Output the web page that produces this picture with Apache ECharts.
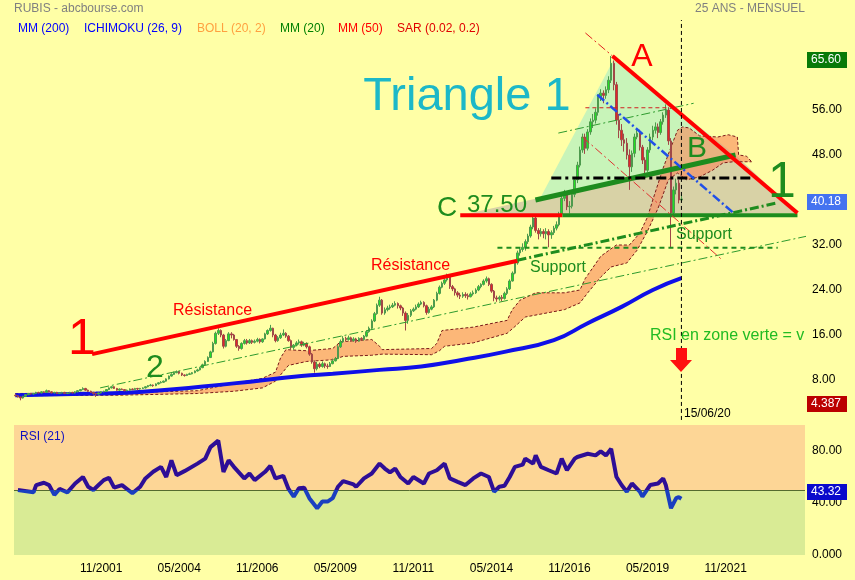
<!DOCTYPE html>
<html><head><meta charset="utf-8">
<script src="https://cdn.jsdelivr.net/npm/echarts@6/dist/echarts.min.js"></script>
<style>html,body{margin:0;padding:0;background:#FFFFA6}#c{width:855px;height:580px}</style>
</head><body><div id="c"></div>
<script>
// ---------- axis definition ----------
const START_YEAR = 1999, START_MONTH = 2, AXIS_MONTHS = 304;
const FIRST_LABEL = 33, LABEL_STEP = 30, LAST_LABEL = 273;

// ---------- monthly prices (from 02/1999 to 06/2020) ----------
const firstOpen = 5.3;
const closes = [
 5.2,5.0,4.8,5.1,5.4,5.6,5.5,5.6,5.8,5.7,5.9,
 5.8,6.1,5.9,5.7,5.8,5.6,5.7,5.8,5.6,5.7,5.8,5.7,
 5.9,6.1,6.3,6.5,6.2,6.0,5.8,5.6,5.5,5.7,5.9,6.0,
 6.3,6.6,6.8,6.5,6.2,6.4,6.3,6.1,6.2,6.4,6.3,6.5,
 6.4,6.5,6.6,6.8,7.0,7.1,7.0,7.3,7.5,7.6,7.8,8.2,
 8.7,9.0,9.3,9.5,9.2,8.9,8.8,9.0,9.1,9.3,9.6,9.8,
 10.2,10.7,11.3,12.0,13.0,14.5,16.3,16.8,16.0,14.0,15.0,16.2,
 16.0,15.2,14.0,13.6,14.5,15.0,14.6,15.0,14.7,14.9,15.2,14.8,
 15.3,16.2,16.8,17.2,16.0,15.0,15.5,16.0,16.3,15.8,15.0,13.8,
 14.2,14.6,14.8,14.2,14.5,13.9,12.6,11.2,10.0,10.8,10.4,10.9,
 10.5,10.4,10.9,11.4,11.8,13.9,14.8,15.4,15.2,15.5,15.0,15.3,
 14.9,15.4,15.2,15.8,16.6,17.2,18.5,19.8,21.3,22.2,19.9,20.5,
 20.8,21.0,21.3,21.6,21.2,20.8,19.9,18.6,19.5,20.3,20.6,21.0,
 21.5,21.8,21.2,20.0,20.6,21.0,22.2,23.4,24.5,25.2,25.8,26.3,
 24.6,24.2,23.5,23.1,22.9,23.2,23.0,22.8,23.3,23.5,24.0,24.6,
 25.0,25.6,26.0,25.0,23.8,22.6,22.4,22.7,22.5,23.4,24.2,25.6,
 27.0,28.8,30.6,31.2,31.6,32.6,33.6,35.2,36.8,34.6,34.0,34.4,
 34.0,34.4,33.8,34.2,35.0,35.6,37.5,40.3,41.2,38.8,38.9,41.0,
 43.6,46.2,48.9,51.2,49.2,52.1,53.9,54.2,55.6,58.3,59.0,58.6,
 59.6,61.3,64.3,60.5,54.2,52.4,50.7,50.1,48.0,45.9,48.3,51.2,
 51.9,49.4,47.1,45.3,48.9,51.2,52.4,53.0,52.0,53.9,55.1,56.0,
 50.5,37.7,41.8,43.0,40.0,40.18
];
const highs = [
 5.4,5.25,5.05,5.2,5.5,5.7,5.7,5.7,5.9,5.9,6.0,
 6.0,6.3,6.2,6.0,5.9,5.9,5.8,5.9,5.9,5.8,5.9,5.9,
 6.0,6.2,6.4,6.7,6.6,6.3,6.1,5.9,5.7,5.8,6.0,6.1,
 6.4,6.7,6.9,6.9,6.6,6.5,6.5,6.4,6.3,6.5,6.5,6.6,
 6.6,6.6,6.7,6.9,7.1,7.3,7.2,7.4,7.6,7.8,7.9,8.3,
 8.8,9.2,9.5,9.7,9.6,9.3,9.0,9.1,9.3,9.4,9.7,10.0,
 10.3,10.9,11.5,12.2,13.2,14.8,16.6,17.2,17.0,16.2,15.3,16.5,
 16.5,16.2,15.3,14.2,14.7,15.3,15.3,15.3,15.2,15.2,15.5,15.4,
 15.4,16.4,17.0,17.8,17.3,16.2,15.8,16.4,17.0,16.5,16.0,15.2,
 14.4,14.9,15.2,15.0,14.8,14.7,14.1,12.8,11.5,11.2,11.1,11.3,
 11.1,10.9,11.2,11.8,12.1,14.2,15.2,15.8,15.7,15.9,15.7,15.6,
 15.5,15.6,15.6,16.0,16.8,17.5,18.8,20.1,21.6,22.8,22.4,20.9,
 21.2,21.4,21.7,22.0,21.8,21.4,21.0,20.2,19.9,20.6,20.9,21.4,
 21.8,22.1,22.0,21.4,21.0,21.3,22.4,23.7,24.8,25.5,26.1,26.9,
 26.7,24.9,24.4,23.8,23.5,23.6,23.6,23.4,23.6,23.9,24.3,24.9,
 25.2,25.9,26.4,26.2,25.2,24.0,23.0,23.0,23.1,23.7,24.5,25.9,
 27.3,29.2,31.0,31.5,32.3,33.0,34.0,35.6,37.4,37.0,35.0,35.0,
 34.8,35.0,34.8,34.6,35.4,36.2,37.9,40.8,41.8,41.5,39.8,41.5,
 44.0,46.8,49.5,51.8,51.8,52.6,54.5,55.3,56.3,58.8,59.7,59.5,
 60.2,62.0,65.6,64.8,61.0,55.3,53.5,51.8,51.0,49.0,48.8,51.8,
 52.8,52.5,49.8,47.6,49.4,51.8,53.2,53.8,53.6,54.4,55.6,57.0,
 56.5,51.0,42.4,43.8,43.6,41.0
];
const lows = [
 5.1,4.9,4.39,4.7,5.0,5.3,5.4,5.4,5.5,5.6,5.6,
 5.7,5.7,5.8,5.6,5.6,5.5,5.5,5.6,5.5,5.5,5.6,5.6,
 5.6,5.8,6.0,6.2,6.1,5.9,5.7,5.4,5.0,5.4,5.6,5.8,
 5.9,6.2,6.5,6.4,6.1,6.1,6.2,6.0,6.0,6.1,6.2,6.2,
 6.2,6.3,6.4,6.5,6.7,6.9,6.8,6.9,7.2,7.4,7.5,7.7,
 8.1,8.6,8.9,9.2,9.0,8.7,8.6,8.7,8.9,9.0,9.2,9.5,
 9.7,10.1,10.6,11.2,11.9,12.9,14.3,16.0,15.6,13.6,13.8,14.9,
 15.4,15.0,13.7,13.2,13.4,14.3,14.3,14.4,14.4,14.5,14.7,14.5,
 14.6,15.2,16.0,16.6,15.6,14.7,14.8,15.3,15.8,15.5,14.8,13.4,
 13.4,14.0,14.3,13.9,14.0,13.6,12.3,10.9,9.3,9.7,10.1,10.2,
 10.1,10.0,10.3,10.8,11.3,11.7,13.7,14.6,14.9,15.0,14.8,14.8,
 14.6,14.8,15.0,15.0,15.6,16.4,17.0,18.3,19.6,21.0,19.6,19.6,
 20.2,20.5,20.8,21.1,20.7,20.4,19.4,16.8,18.0,19.2,20.1,20.4,
 20.8,21.3,20.9,19.6,19.8,20.4,20.8,22.0,23.2,24.3,24.9,25.5,
 24.2,23.8,23.0,22.7,22.4,22.6,22.6,22.3,22.7,23.0,23.3,23.8,
 24.3,24.8,25.3,24.7,23.5,22.0,21.9,22.1,22.0,22.3,23.1,24.0,
 25.5,26.8,28.5,30.1,30.8,31.0,32.2,33.3,34.8,34.2,33.0,33.5,
 33.2,33.0,31.6,33.1,33.8,34.6,35.3,37.1,39.8,38.2,37.6,38.5,
 40.5,43.0,45.8,48.4,48.2,48.8,51.6,52.8,53.6,55.0,57.6,57.2,
 58.0,59.0,60.8,59.5,53.4,51.0,49.6,48.6,47.2,41.8,45.0,47.6,
 50.8,48.8,46.4,44.2,45.0,48.4,50.6,51.8,51.0,51.6,53.4,54.6,
 49.8,31.6,37.2,41.0,39.4,39.6
];

// ---------- indicators: [month index, value] ----------
const mm200 = [[0,5.3],[31,5.6],[49,5.9],[84,7.4],[110,8.7],[122,9.1],[140,9.8],[156,10.4],[172,11.6],[188,13.0],[207,15.1],[220,18.1],[233,21.0],[245,24.0],[256,26.1]];
const cloudTop = [[0,5.6],[40,5.7],[70,6.1],[84,7.4],[95,8.3],[100,9.4],[102,12.0],[104,13.4],[112,13.2],[122,13.6],[125,14.8],[137,15.2],[140,14.0],[141,13.4],[160,13.6],[162,14.5],[164,16.8],[176,17.4],[189,18.6],[191,20.5],[194,22.2],[200,23.5],[211,23.5],[217,24.0],[219,26.0],[225,30.0],[231,32.0],[236,32.0],[240,34.1],[243,37.0],[245,40.0],[249,45.7],[252,49.4],[254.5,52.4],[256.5,53.0],[259,52.8],[263,51.4],[270,51.2],[274,51.6],[277.5,51.2],[278,48.0],[281,47.8],[283,46.8]];
const cloudBot = [[0,5.2],[40,5.3],[70,5.6],[84,6.0],[95,6.6],[100,7.8],[103,9.5],[105,10.6],[112,11.3],[122,11.6],[126,12.2],[137,12.4],[141,12.6],[160,12.5],[163,13.2],[165,14.0],[176,14.6],[189,16.3],[192,17.5],[196,19.2],[211,20.5],[217,21.7],[220,23.5],[225,26.3],[229,28.1],[235,28.8],[239,31.1],[243,34.5],[247,38.5],[251,43.6],[254.5,44.8],[258,43.6],[263,44.1],[268,45.3],[272,46.6],[276,46.8],[283,46.8]];
const rsi21 = [[1,50],[7,48.2],[8,53.8],[11,55.6],[13,53.8],[15,46.2],[17,50.8],[20,48.2],[23,55],[26,60],[28,52.5],[30,50],[32,53.8],[34,57.6],[36,59.4],[38,51.8],[41,53.8],[45,47.5],[48,52.5],[50,58.9],[53,64],[56,67.8],[58,60],[60,72.8],[62,61.4],[65,64.5],[70,70.3],[73,74.1],[75,83],[78,88],[80,64],[82,72.8],[84,67.8],[88,58.9],[90,62.7],[92,57.6],[96,64],[98,68.5],[100,58.9],[103,60.9],[105,50.8],[107,44.9],[109,51.3],[111,51.8],[113,43.7],[116,36],[118,41.1],[120,41.1],[122,43.7],[124,52.5],[126,56.9],[130,54.3],[131,52.5],[134,58.9],[137,62.7],[140,70.3],[142,66.5],[144,63.5],[146,66.5],[148,60],[151,55],[153,60],[157,55],[159,62.7],[162,65.2],[165,70.3],[167,58.9],[170,56.3],[173,53.8],[176,58.9],[179,62.7],[182,60],[184,48.7],[186,52.5],[188,53.3],[190,60],[192,67.8],[195,69.5],[196,74.1],[199,70.3],[200,76.6],[202,67.8],[205,65.2],[208,62.7],[210,74.1],[212,65.2],[215,74.1],[216,75.4],[220,77.9],[223,76.6],[225,79.7],[227,76.6],[229,81.7],[231,60.2],[233,53.8],[235,48.7],[237,55],[240,48.7],[241,44.9],[244,53.8],[247,55],[249,58.9],[250,53.8],[252,36],[254,43.7],[255,44.5],[256,43.3]];

// ---------- drawn annotations: [month index, price] ----------
const resistance1 = [[29.5,12.6],[193,29.2]];
const channelLow = [[32.6,6.6],[304.5,33.6]];
const channelHigh = [[208.7,51.9],[260.7,57.2]];
const supportThick = [[193,29.3],[293,39.5]];
const supportDashed = [[185.3,31.5],[293,31.5]];
const levelC = [[171,37.3],[210.3,37.3]];
const baseLine = [[210.3,37.3],[300.6,37.3]];
const lineB = [[199.9,40.0],[276.8,48.0]];
const lineA = [[229.5,65.6],[300.6,37.7]];
const lineAext = [[219.1,69.7],[229.5,65.6]];
const midLevel = [[206,43.9],[283.7,43.9]];
const blueDiag = [[223.7,58.7],[276,37.7]];
const redDiag = [[218,51.2],[271.8,29.3]];
const redTop = [[219.1,56.4],[251,56.4]];
const todayLine = [[256,0.9],[256,72]];
const triTan = [[171,37.3],[276.8,48.0],[300.6,37.6]];
const triGreen = [[201.8,40.4],[229.9,64.9],[276.8,48.0]];
const lastValues = {high:'65.60', last:'40.18', low:'4.387', rsi:'43.32'};

// ---------- build ----------
const categories = Array.from({length: AXIS_MONTHS}, (_, i) => {
  const m = START_MONTH - 1 + i;
  return String(m % 12 + 1).padStart(2, '0') + '/' + (START_YEAR + Math.floor(m / 12));
});
const candles = closes.map((c, i) => {
  const o = i === 0 ? firstOpen : closes[i - 1];
  return [o, c, lows[i], highs[i]];
});
const FONT = '"Liberation Sans", Arial, sans-serif';
const TOP = 1; // upper canvas layer

function seg(data, color, width, type, z) {
  return { type: 'line', xAxisIndex: 1, yAxisIndex: 0, data, symbol: 'none', silent: true, zlevel: TOP, z: z || 6,
    lineStyle: { color, width, type: type || 'solid' } };
}
function poly(points, fill, z) {
  return { type: 'custom', xAxisIndex: 1, yAxisIndex: 0, z, zlevel: 0, silent: true, data: [[0, 0]],
    renderItem: (p, api) => ({ type: 'polygon', shape: { points: points.map(q => api.coord(q)) }, style: { fill } }) };
}
const DASHDOT = [9, 3, 2, 3];

const series = [
  poly(triTan, '#D8D2A6', 1),
  poly(triGreen, '#C8F4B9', 2),
  { type: 'custom', xAxisIndex: 1, yAxisIndex: 0, z: 3, zlevel: 0, silent: true, data: [[0, 0]],
    renderItem: (p, api) => {
      const t = cloudTop.map(q => api.coord(q)), b = cloudBot.map(q => api.coord(q));
      return { type: 'group', children: [
        { type: 'polygon', shape: { points: t.concat(b.slice().reverse()) }, style: { fill: 'rgba(250,135,90,0.6)' } },
        { type: 'polyline', shape: { points: t }, style: { stroke: '#7A1A1A', lineWidth: 1, lineDash: [3, 2], fill: null } },
        { type: 'polyline', shape: { points: b }, style: { stroke: '#7A1A1A', lineWidth: 1, lineDash: [3, 2], fill: null } }
      ] };
    } },
  { type: 'line', xAxisIndex: 1, yAxisIndex: 0, data: mm200, smooth: true, symbol: 'none', zlevel: TOP, z: 3, silent: true,
    lineStyle: { color: '#1010E8', width: 4 } },
  { type: 'candlestick', xAxisIndex: 0, yAxisIndex: 0, data: candles, zlevel: TOP, z: 4, barWidth: 2, silent: true,
    itemStyle: { color: '#22E022', color0: '#E42626', borderColor: '#4E9A4E', borderColor0: '#A04848', borderWidth: 1 } },
  seg(resistance1, '#FF0000', 4),
  seg(channelLow, '#2E9A2E', 1, DASHDOT),
  seg(channelHigh, '#2E9A2E', 1, DASHDOT),
  seg(supportThick, '#1E8C1E', 3, DASHDOT),
  seg(supportDashed, '#1E8C1E', 2, [5, 4]),
  seg(levelC, '#FF0000', 4),
  seg(baseLine, '#1E8C1E', 4),
  seg(lineB, '#1E8C1E', 5),
  seg(lineA, '#FF0000', 4),
  seg(lineAext, '#E02020', 1, DASHDOT),
  seg(midLevel, '#000000', 3, [10, 4, 3, 4]),
  seg(blueDiag, '#2050E8', 2.5, DASHDOT),
  seg(redDiag, '#E03030', 1, DASHDOT),
  seg(redTop, '#D02020', 1, [4, 3]),
  seg(todayLine, '#000000', 1, [4, 3], 7),
  { type: 'line', xAxisIndex: 3, yAxisIndex: 1, data: rsi21, symbol: 'none', silent: true, zlevel: TOP, z: 5,
    lineStyle: { width: 4, color: { type: 'linear', x: 0, y: 425, x2: 0, y2: 555, global: true, colorStops: [
      { offset: 0, color: '#2E0E96' }, { offset: 0.5, color: '#2E0E96' }, { offset: 0.5, color: '#1A3FC0' }, { offset: 1, color: '#1A3FC0' } ] } },
    markArea: { silent: true, itemStyle: { opacity: 1 }, data: [
      [{ yAxis: 50, itemStyle: { color: '#FDD696' } }, { yAxis: 100 }],
      [{ yAxis: 0, itemStyle: { color: '#D9EB95' } }, { yAxis: 50 }]
    ] },
    markLine: { silent: true, symbol: 'none', label: { show: false }, lineStyle: { color: '#556B2F', width: 1, type: 'solid' },
      data: [{ yAxis: 50 }] } }
];

function txt(text, x, y, color, size, extra) {
  return { type: 'text', zlevel: TOP, z: 50, silent: true,
    style: Object.assign({ text, x, y, fill: color, font: size + 'px ' + FONT, textAlign: 'left', textVerticalAlign: 'middle' }, extra || {}) };
}
function badge(text, y, color) {
  return [
    { type: 'rect', zlevel: TOP, z: 60, silent: true, shape: { x: 807, y: y - 8, width: 40, height: 16 }, style: { fill: color } },
    { type: 'text', zlevel: TOP, z: 61, silent: true, style: { text, x: 811, y, fill: '#FFFFFF', font: '12px ' + FONT, textVerticalAlign: 'middle' } }
  ];
}

const graphic = [
  txt('RUBIS - abcbourse.com', 14, 9, '#808080', 12),
  txt('25 ANS - MENSUEL', 805, 9, '#808080', 12, { textAlign: 'right' }),
  txt('MM (200)', 18, 29, '#0000FF', 12),
  txt('ICHIMOKU (26, 9)', 84, 29, '#0000FF', 12),
  txt('BOLL (20, 2)', 197, 29, '#FFA040', 12),
  txt('MM (20)', 280, 29, '#008000', 12),
  txt('MM (50)', 338, 29, '#FF0000', 12),
  txt('SAR (0.02, 0.2)', 397, 29, '#E00000', 12),
  txt('Triangle 1', 467, 97, '#1CB8C8', 47, { textAlign: 'center' }),
  txt('1', 82, 340, '#FF0000', 50, { textAlign: 'center' }),
  txt('2', 155, 368, '#1E8C1E', 32, { textAlign: 'center' }),
  txt('Résistance', 173, 311, '#FF0000', 16),
  txt('Résistance', 371, 266, '#FF0000', 16),
  txt('Support', 530, 268, '#1E8C1E', 16),
  txt('Support', 676, 235, '#1E8C1E', 16),
  txt('A', 642, 57, '#FF0000', 32, { textAlign: 'center' }),
  txt('B', 697, 149, '#1E8C1E', 30, { textAlign: 'center' }),
  txt('C', 447, 208, '#1E8C1E', 28, { textAlign: 'center' }),
  txt('37.50', 467, 205, '#1E8C1E', 24),
  txt('1', 782, 183, '#1E8C1E', 50, { textAlign: 'center' }),
  txt('RSI en zone verte = vente', 650, 336, '#22BB22', 16, { width: 160, overflow: 'truncate', ellipsis: '' }),
  txt('15/06/20', 684, 414, '#000000', 12),
  txt('RSI (21)', 20, 437, '#1010C0', 12),
  { type: 'polygon', zlevel: TOP, z: 55, silent: true, shape: { points: [[676, 348], [687, 348], [687, 360], [692, 360], [681, 372], [670, 360], [676, 360]] }, style: { fill: '#FF1010' } }
].concat(
  badge(lastValues.high, 60, '#087A08'),
  badge(lastValues.last, 202, '#4473F0'),
  badge(lastValues.low, 404, '#BB0000'),
  badge(lastValues.rsi, 492, '#0A0ACC')
);

const chart = echarts.init(document.getElementById('c'), null, { renderer: 'canvas' });
chart.setOption({
  animation: false,
  backgroundColor: '#FFFFA6',
  textStyle: { fontFamily: FONT },
  grid: [
    { left: 14, right: 50, top: 20, height: 405 },
    { left: 14, right: 50, top: 425, height: 130 }
  ],
  xAxis: [
    { type: 'category', gridIndex: 0, data: categories, boundaryGap: true, axisLabel: { show: false }, axisLine: { show: false }, axisTick: { show: false }, splitLine: { show: false } },
    { type: 'value', gridIndex: 0, min: -0.5, max: AXIS_MONTHS - 0.5, show: false },
    { type: 'category', gridIndex: 1, data: categories, boundaryGap: true, axisLine: { show: false }, axisTick: { show: false },
      axisLabel: { color: '#000', fontSize: 12, margin: 8, interval: (i) => i >= FIRST_LABEL && i <= LAST_LABEL && (i - FIRST_LABEL) % LABEL_STEP === 0 } },
    { type: 'value', gridIndex: 1, min: -0.5, max: AXIS_MONTHS - 0.5, show: false }
  ],
  yAxis: [
    { type: 'value', gridIndex: 0, position: 'right', min: 0, max: 72, interval: 8, splitLine: { show: false }, axisLine: { show: false }, axisTick: { show: false },
      axisLabel: { color: '#000', fontSize: 12, margin: 7, formatter: v => (v === 0 || v === 72) ? '' : v.toFixed(2) } },
    { type: 'value', gridIndex: 1, position: 'right', min: 0, max: 100, interval: 40, splitLine: { show: false }, axisLine: { show: false }, axisTick: { show: false },
      axisLabel: { color: '#000', fontSize: 12, margin: 7, showMaxLabel: false, formatter: v => v === 0 ? '0.000' : v.toFixed(2) } }
  ],
  series,
  graphic
});
</script>
</body></html>
